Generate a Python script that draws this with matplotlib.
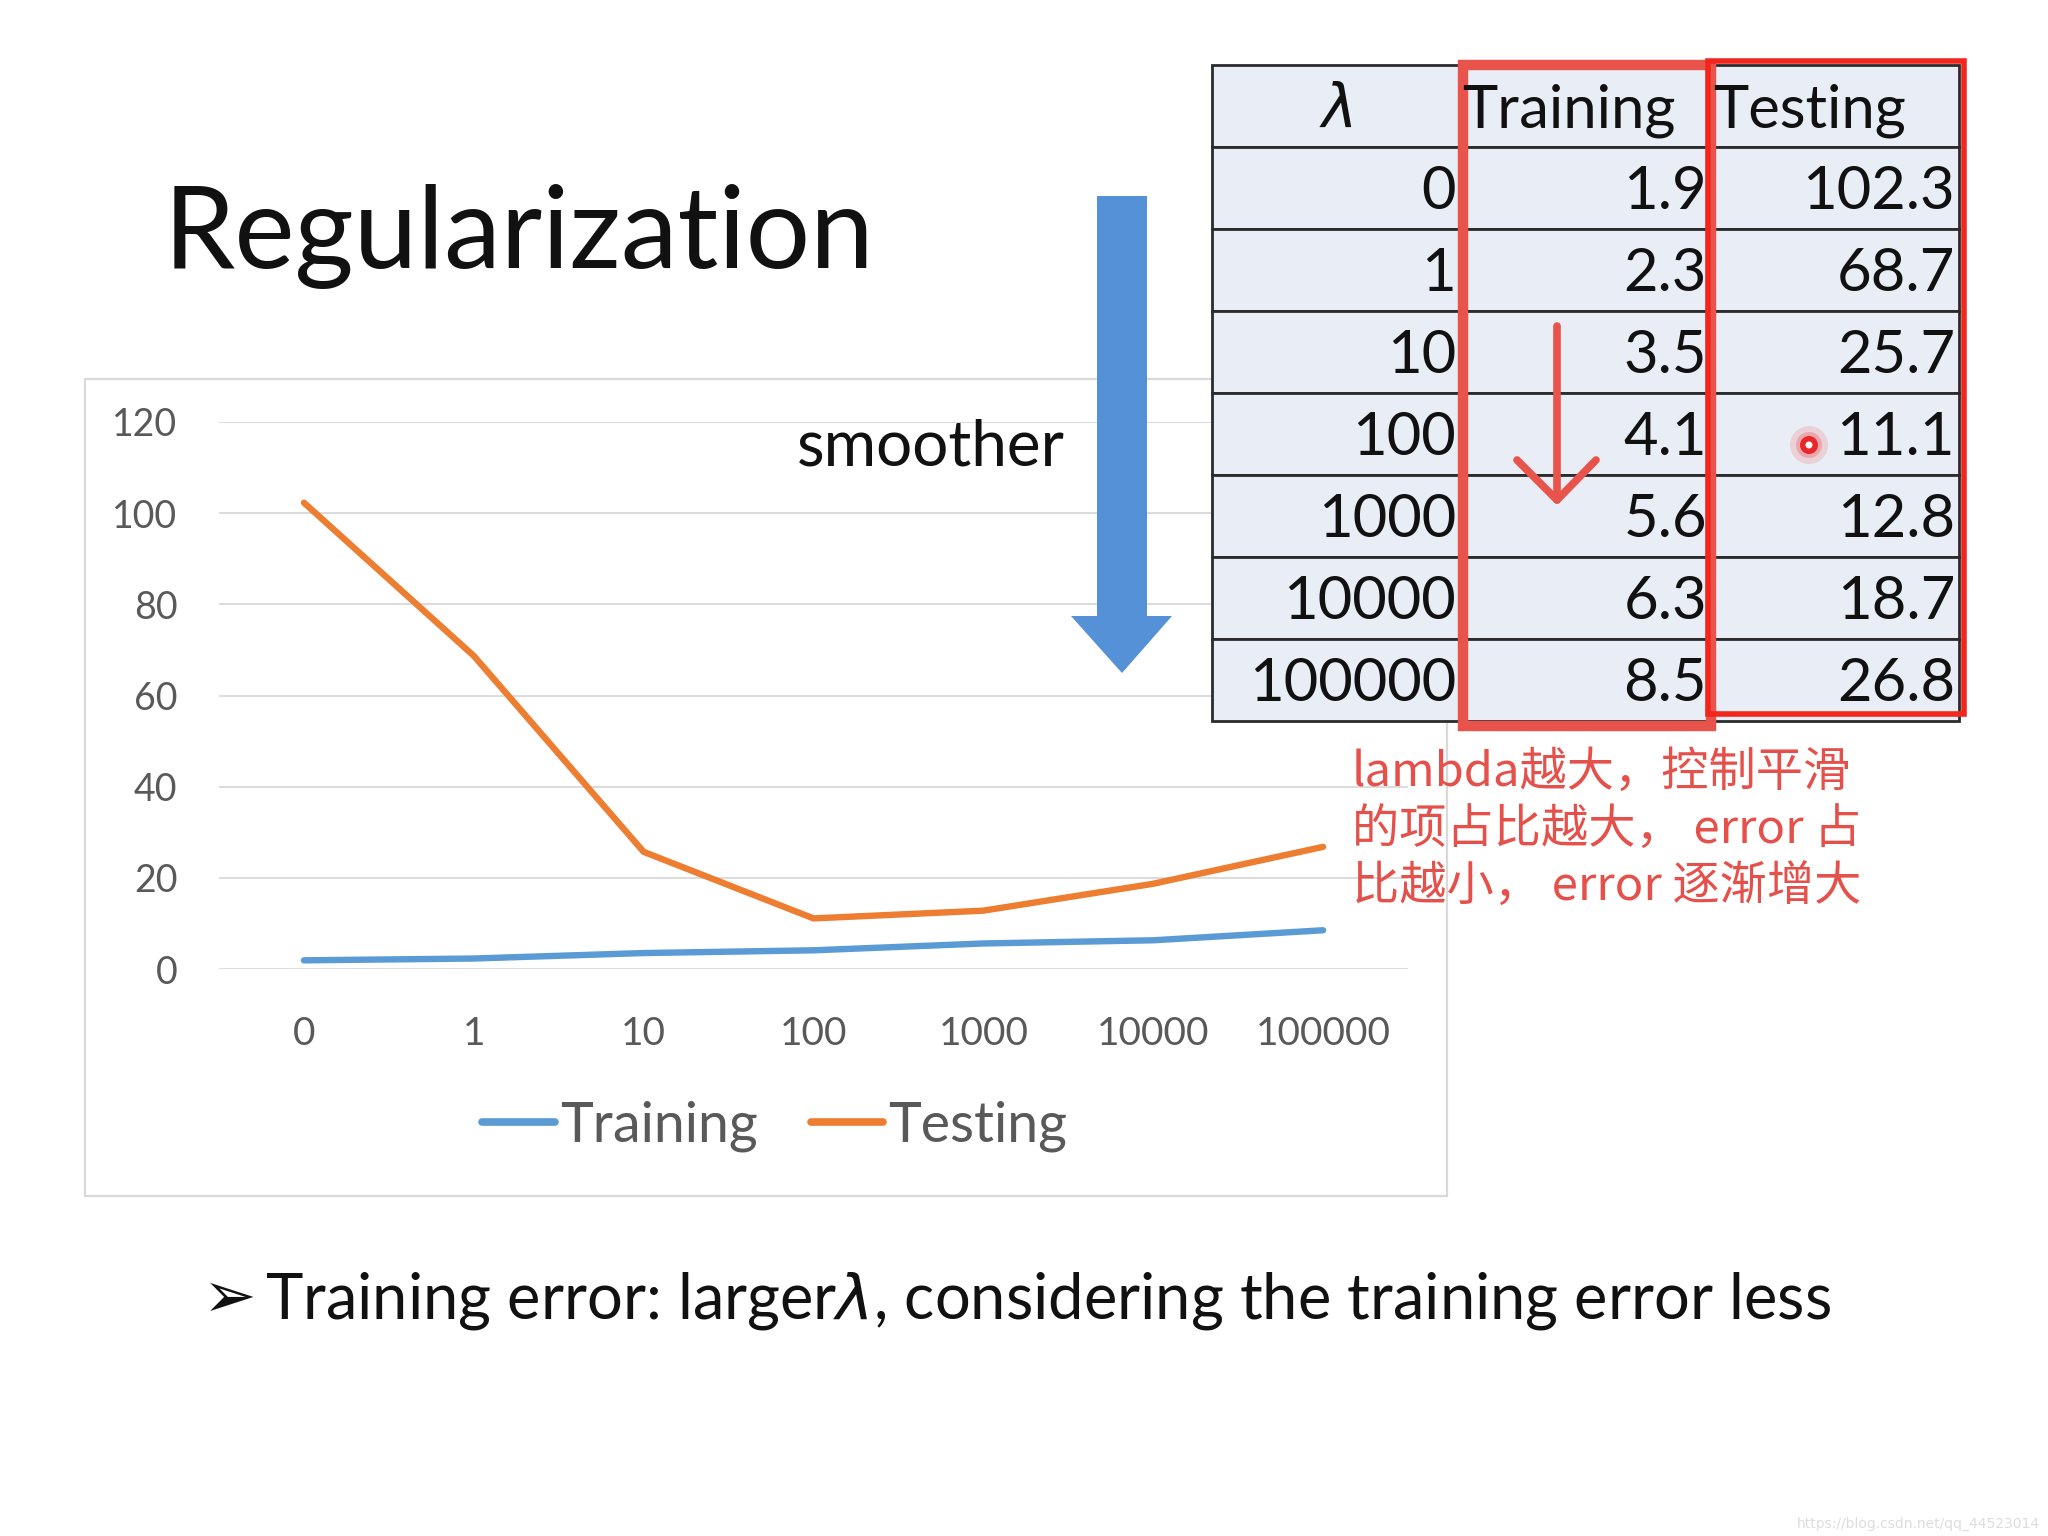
import matplotlib
matplotlib.use("Agg")
import matplotlib.pyplot as plt
from matplotlib.patches import Rectangle, Circle, Polygon

# data
lambdas = ["0", "1", "10", "100", "1000", "10000", "100000"]
training = [1.9, 2.3, 3.5, 4.1, 5.6, 6.3, 8.5]
testing = [102.3, 68.7, 25.7, 11.1, 12.8, 18.7, 26.8]
y_ticks = [0, 20, 40, 60, 80, 100, 120]
table_header = ["$\\lambda$", "Training", "Testing"]

title = "Regularization"
side_word = "smoother"
note_lines = ["lambda越大，控制平滑", "的项占比越大， error 占", "比越小， error 逐渐增大"]
bullet = "Training error: larger$\\lambda$, considering the training error less"
watermark = "https://blog.csdn.net/qq_44523014"

plt.rcParams['font.family'] = ['Lato', 'DejaVu Sans']
plt.rcParams['mathtext.fontset'] = 'dejavusans'

W, H = 2048, 1536
fig = plt.figure(figsize=(20.48, 15.36), dpi=100)
fig.patch.set_facecolor('white')

def fx(px):
    return px / W

def fy(py):
    return 1 - py / H

# back layer: chart frame
bg = fig.add_axes([0, 0, 1, 1], zorder=0)
bg.set_xlim(0, W)
bg.set_ylim(H, 0)
bg.axis('off')
bg.add_patch(Rectangle((85, 379), 1362, 817, fill=False, ec='#D9D9D9', lw=1.6))

# line chart
ax = fig.add_axes([fx(219), fy(969), (1408 - 219) / W, (969 - 422) / H], zorder=1)
ax.patch.set_alpha(0)
x = list(range(len(lambdas)))
ax.plot(x, training, color='#5B9BD5', lw=4.6, label='Training', solid_capstyle='round')
ax.plot(x, testing, color='#ED7D31', lw=4.6, label='Testing', solid_capstyle='round')
ax.set_xlim(-0.5, len(lambdas) - 0.5)
ax.set_ylim(0, 120)
ax.set_yticks(y_ticks)
ax.set_xticks(x, lambdas)
ax.grid(axis='y', color='#D9D9D9', lw=1.3)
ax.set_axisbelow(True)
for s in ax.spines.values():
    s.set_visible(False)
ax.tick_params(length=0, labelcolor='#595959')
ax.tick_params(axis='x', pad=34, labelsize=28)
ax.tick_params(axis='y', pad=30, labelsize=27)

leg = ax.legend(loc='center', bbox_to_anchor=(fx(775), fy(1126)),
                bbox_transform=fig.transFigure, ncol=2, frameon=False,
                fontsize=40, handlelength=1.3, handletextpad=0.1,
                columnspacing=0.95, labelcolor='#595959')
for ln in leg.get_lines():
    ln.set_linewidth(5.5)
    ln.set_solid_capstyle('round')

# front layer: title, arrow, table, notes
ov = fig.add_axes([0, 0, 1, 1], zorder=5)
ov.set_xlim(0, W)
ov.set_ylim(H, 0)
ov.axis('off')
ov.patch.set_alpha(0)

ov.text(164, 268, title, fontsize=82, color='#111111', va='baseline', ha='left')
ov.text(797, 465, side_word, fontsize=46, color='#111111', va='baseline', ha='left')

ov.add_patch(Polygon([(1097, 196), (1147, 196), (1147, 616), (1172, 616),
                      (1122, 673), (1071, 616), (1097, 616)],
                     closed=True, fc='#5591D6', ec='none'))

# table
col_x = [1212, 1460, 1711, 1959]
row_y0, row_h = 65, 82
rows = [table_header] + [[lam, f"{tr:.1f}", f"{te:.1f}"]
                         for lam, tr, te in zip(lambdas, training, testing)]
tfs = 43
for r, row in enumerate(rows):
    top = row_y0 + r * row_h
    base = top + row_h / 2 + 21
    for c in range(3):
        ov.add_patch(Rectangle((col_x[c], top), col_x[c + 1] - col_x[c], row_h,
                               fc='#E9EDF5', ec='#2B2B2B', lw=2))
        if r == 0:
            if c == 0:
                ov.text((col_x[0] + col_x[1]) / 2, base, row[c], fontsize=tfs,
                        ha='center', va='baseline', color='#111111')
            else:
                ov.text(col_x[c] + 2, base, row[c], fontsize=tfs,
                        ha='left', va='baseline', color='#111111')
        else:
            ov.text(col_x[c + 1] - 4, base, row[c], fontsize=tfs,
                    ha='right', va='baseline', color='#111111')

# red highlight boxes and arrow
ov.add_patch(Rectangle((1463, 65), 248, 661, fill=False, ec='#E8534B', lw=7.5))
ov.add_patch(Rectangle((1708, 61), 256, 653, fill=False, ec='#F2261D', lw=4))
ov.plot([1557, 1557], [326, 500], color='#E8534B', lw=5.5, solid_capstyle='round')
ov.plot([1517, 1557, 1596], [460, 500, 460], color='#E8534B', lw=5.5,
        solid_capstyle='round', solid_joinstyle='round')

# pointer dot
ov.add_patch(Circle((1809, 445), 19, fc='#F03030', ec='none', alpha=0.15))
ov.add_patch(Circle((1809, 445), 13, fc='#F03030', ec='none', alpha=0.25))
ov.add_patch(Circle((1809, 445), 9, fc='#E82828', ec='none'))
ov.add_patch(Circle((1809, 445), 3.5, fc='white', ec='none'))

# Chinese note
for i, line in enumerate(note_lines):
    ov.text(1352, 786 + i * 57.5, line, fontsize=34, color='#E5504A',
            ha='left', va='baseline', family=['Noto Sans CJK SC', 'DejaVu Sans'])

# bullet text
ov.text(203, 1317, "➢", fontsize=46, color='#111111', ha='left', va='baseline',
        family=['DejaVu Sans'])
ov.text(265, 1319, bullet, fontsize=45.5, color='#111111', ha='left', va='baseline')

ov.text(2040, 1528, watermark, fontsize=10, color='#DDDDDD', ha='right', va='baseline',
        family=['DejaVu Sans'])

fig.savefig("out.png", dpi=100, facecolor='white')
